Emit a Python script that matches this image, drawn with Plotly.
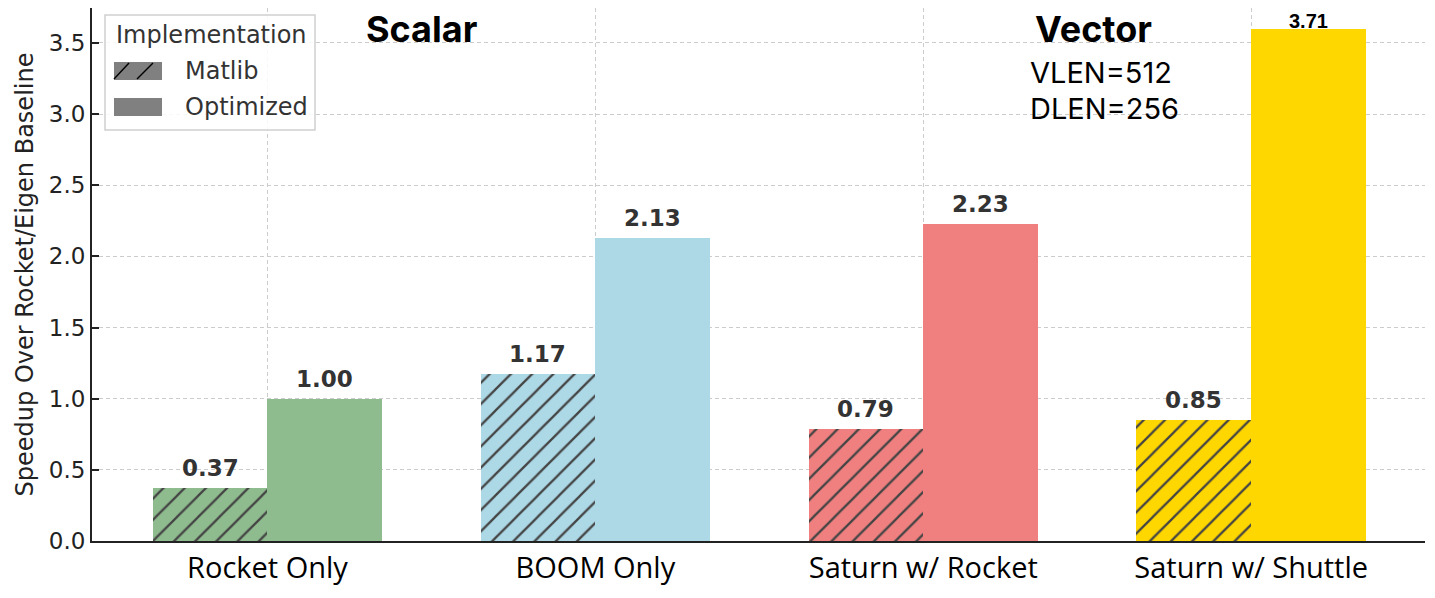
import plotly.graph_objects as go

categories = ["Rocket Only", "BOOM Only", "Saturn w/ Rocket", "Saturn w/ Shuttle"]
colors = ["#8FBC8F", "#ADD8E6", "#F08080", "#FFD700"]
matlib = [0.37, 1.17, 0.79, 0.85]
optimized = [1.00, 2.13, 2.23, 3.60]
matlib_labels = ["0.37", "1.17", "0.79", "0.85"]
optimized_labels = ["1.00", "2.13", "2.23", "3.71"]

BAR_W = 0.35
xs = list(range(len(categories)))

# the page body has an 8px margin, so the figure is drawn 8px smaller
# and all pixel positions below are in figure coordinates
FIG_W, FIG_H = 1427, 590
PX_L, PX_R, PX_T, PX_B = 84, 1417, 0, 533


def px(x):
    return (x - PX_L) / (PX_R - PX_L)


def py(y):
    return (PX_B - y) / (PX_B - PX_T)


fig = go.Figure()

fig.add_trace(go.Bar(
    x=[i - BAR_W / 2 for i in xs], y=matlib, width=BAR_W,
    marker=dict(color=colors, line=dict(width=0),
                pattern=dict(shape="/", fgcolor="black", fgopacity=1,
                             size=15, solidity=0.15)),
    showlegend=False, hoverinfo="y",
))
fig.add_trace(go.Bar(
    x=[i + BAR_W / 2 for i in xs], y=optimized, width=BAR_W,
    marker=dict(color=colors, line=dict(width=0)),
    showlegend=False, hoverinfo="y",
))

# value labels
for i in xs:
    fig.add_annotation(x=i - BAR_W / 2, y=matlib[i], text=matlib_labels[i],
                       showarrow=False, yshift=20,
                       font=dict(family="DejaVu Sans", size=23, color="#333333", weight="bold"))
    last = i == len(xs) - 1
    fig.add_annotation(x=i + BAR_W / 2, y=optimized[i], text=optimized_labels[i],
                       showarrow=False, yshift=8 if last else 20,
                       font=dict(family="Liberation Sans" if last else "DejaVu Sans",
                                 size=20 if last else 23,
                                 color="black" if last else "#333333",
                                 weight="bold"))

fig.add_annotation(x=0.47, y=3.6, text="Scalar", showarrow=False,
                   font=dict(family="Inter", size=36, color="black", weight="bold"))
fig.add_annotation(x=2.52, y=3.6, text="Vector", showarrow=False,
                   font=dict(family="Inter", size=36, color="black", weight="bold"))
fig.add_annotation(x=2.32, y=3.29, text="VLEN=512", showarrow=False, xanchor="left",
                   font=dict(family="Inter", size=29, color="black"))
fig.add_annotation(x=2.32, y=3.04, text="DLEN=256", showarrow=False, xanchor="left",
                   font=dict(family="Inter", size=29, color="black"))

# legend box (matplotlib style)
fig.add_shape(type="rect", xref="paper", yref="paper",
              x0=px(97), x1=px(307), y0=py(7), y1=py(122),
              fillcolor="rgba(255,255,255,0.85)", line=dict(color="#d0d0d0", width=1.5))
for y_top, y_bot in [(54, 72), (90, 108)]:
    fig.add_shape(type="rect", xref="paper", yref="paper",
                  x0=px(106), x1=px(154), y0=py(y_bot), y1=py(y_top),
                  fillcolor="#808080", line=dict(width=0))
for x_a, x_b in [(106, 121), (129, 145)]:
    fig.add_shape(type="line", xref="paper", yref="paper",
                  x0=px(x_a), x1=px(x_b), y0=py(71), y1=py(55),
                  line=dict(color="black", width=1.5))
legend_text = [("Implementation", 106, 27), ("Matlib", 175, 63), ("Optimized", 175, 99)]
for txt, lx, ly in legend_text:
    fig.add_annotation(xref="paper", yref="paper", x=px(lx), y=py(ly), text=txt,
                       showarrow=False, xanchor="left", yanchor="middle",
                       font=dict(family="DejaVu Sans", size=24, color="#333333"))

fig.update_layout(
    width=FIG_W, height=FIG_H,
    plot_bgcolor="white", paper_bgcolor="white",
    margin=dict(l=PX_L, r=FIG_W - PX_R, t=PX_T, b=FIG_H - PX_B),
    barmode="overlay", bargap=0, showlegend=False,
    font=dict(family="DejaVu Sans", color="#222222"),
)
fig.update_xaxes(
    range=[-0.535, 3.53], tickvals=xs, ticktext=categories,
    tickfont=dict(family="Open Sans", size=29, color="black"),
    showgrid=True, gridcolor="#cccccc", griddash="4px,3px", gridwidth=1,
    showline=True, linecolor="#222222", linewidth=2, ticks="", zeroline=False,
    automargin=False,
)
fig.update_yaxes(
    range=[0, 3.745], tickvals=[0, 0.5, 1, 1.5, 2, 2.5, 3, 3.5], tickformat=".1f",
    tickfont=dict(family="DejaVu Sans", size=23, color="#222222"),
    title=dict(text="Speedup Over Rocket/Eigen Baseline",
               font=dict(family="DejaVu Sans", size=24, color="#222222"), standoff=8),
    showgrid=True, gridcolor="#cccccc", griddash="4px,3px", gridwidth=1,
    showline=True, linecolor="#222222", linewidth=2,
    ticks="inside", ticklen=7, tickcolor="#222222", tickwidth=1.5,
    zeroline=False, automargin=False,
)

fig.write_html("out.html")
